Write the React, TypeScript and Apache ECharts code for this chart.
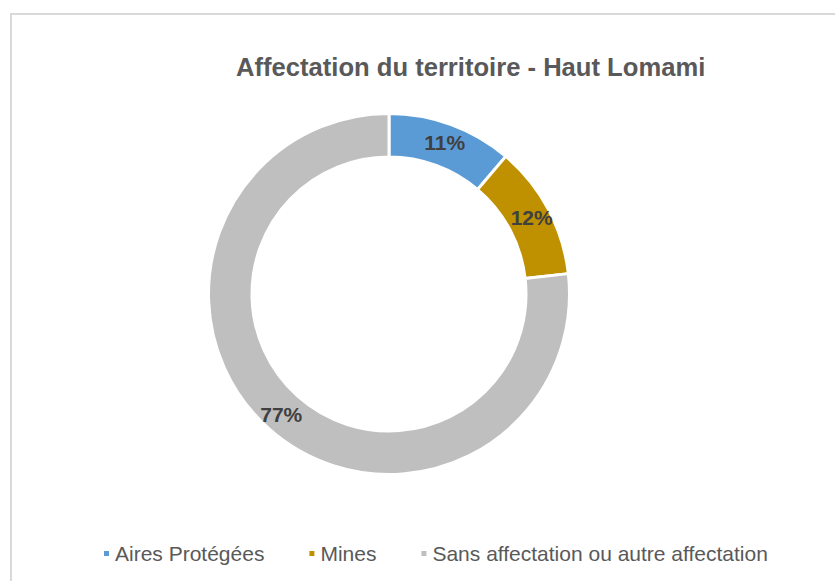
import React, { useEffect, useRef } from "react";
import * as echarts from "echarts";

const categories = ["Aires Protégées", "Mines", "Sans affectation ou autre affectation"];
const shares = [11.2, 12.0, 76.8];
const colors = ["#5B9BD5", "#BF9000", "#BFBFBF"];
const titleText = "Affectation du territoire - Haut Lomami";

const FONT = "'Liberation Sans', Arial, Helvetica, sans-serif";

export default function App() {
  const ref = useRef<HTMLDivElement>(null);
  useEffect(() => {
    if (!ref.current) return;
    const chart = echarts.init(ref.current, undefined, { renderer: "svg" });
    chart.setOption({
      animation: false,
      backgroundColor: "#ffffff",
      title: {
        text: titleText,
        left: 236,
        top: 54,
        padding: 0,
        textStyle: { fontFamily: FONT, fontSize: 25.6, fontWeight: "bold", color: "#595959" },
      },
      legend: {
        data: categories,
        left: 102,
        top: 543,
        padding: 0,
        icon: "rect",
        itemWidth: 7,
        itemHeight: 7,
        itemGap: 43,
        textStyle: { fontFamily: FONT, fontSize: 21, color: "#595959" },
      },
      graphic: [
        {
          type: "rect",
          shape: { x: 11, y: 14, width: 840, height: 590 },
          style: { fill: "none", stroke: "#D9D9D9", lineWidth: 2 },
          silent: true,
          z: -1,
        },
      ],
      series: [
        {
          type: "pie",
          center: [389, 294],
          radius: [137, 180.5],
          startAngle: 90,
          clockwise: true,
          percentPrecision: 0,
          avoidLabelOverlap: false,
          itemStyle: { borderColor: "#ffffff", borderWidth: 3 },
          label: {
            show: true,
            position: "inside",
            formatter: "{d}%",
            fontFamily: FONT,
            fontSize: 21,
            fontWeight: "bold",
            color: "#404040",
          },
          labelLine: { show: false },
          emphasis: { disabled: true },
          data: categories.map((name, i) => ({
            name,
            value: shares[i],
            itemStyle: { color: colors[i] },
          })),
        },
      ],
    });
    return () => chart.dispose();
  }, []);
  return (
    <div
      ref={ref}
      style={{ position: "fixed", left: 0, top: 0, width: 835, height: 581 }}
    />
  );
}
